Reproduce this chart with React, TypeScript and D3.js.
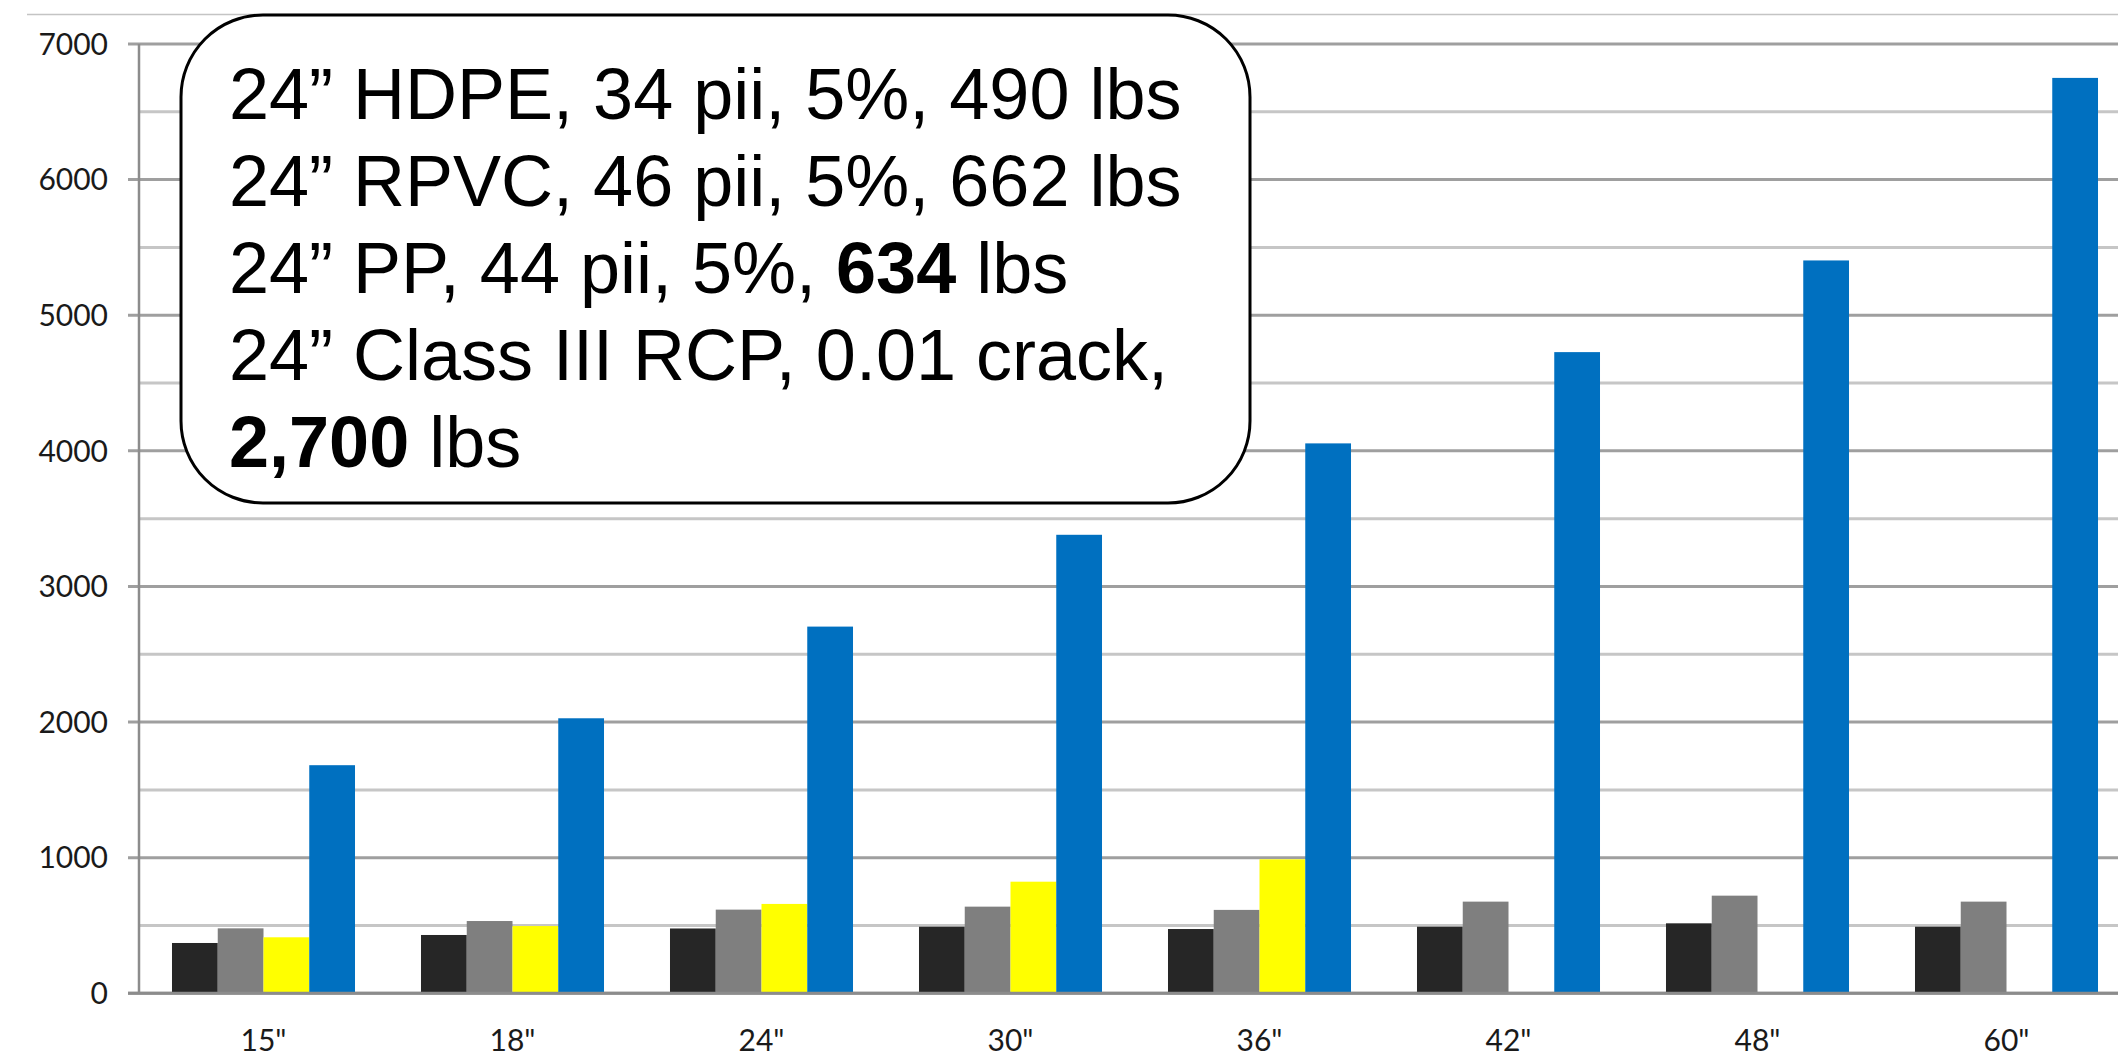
import React from "react";
import * as d3 from "d3";

const categories = ['15"', '18"', '24"', '30"', '36"', '42"', '48"', '60"'];
const seriesNames = ["HDPE", "RPVC", "PP", "RCP"];
const hdpe = [371, 430, 478, 491, 474, 491, 516, 491];
const rpvc = [479, 533, 617, 639, 615, 676, 720, 676];
const pp: (number | null)[] = [413, 496, 659, 823, 988, null, null, null];
const rcp = [1682, 2028, 2704, 3381, 4055, 4728, 5404, 6750];
const seriesColors = ["#262626", "#7f7f7f", "#ffff00", "#0070c0"];
const yTicks = [0, 1000, 2000, 3000, 4000, 5000, 6000, 7000];
const minorTicks = [500, 1500, 2500, 3500, 4500, 5500, 6500];

type Seg = { text: string; bold?: boolean };
const noteLines: Seg[][] = [
  [{ text: "24\u201D HDPE, 34 pii, 5%, 490 lbs" }],
  [{ text: "24\u201D RPVC, 46 pii, 5%, 662 lbs" }],
  [{ text: "24\u201D PP, 44 pii, 5%, " }, { text: "634", bold: true }, { text: " lbs" }],
  [{ text: "24\u201D Class III RCP, 0.01 crack," }],
  [{ text: "2,700", bold: true }, { text: " lbs" }],
];

export default function App() {
  const W = 2118;
  const H = 1061;
  const x0 = 139;
  const step = 249;
  const x1 = x0 + step * categories.length;
  const yBase = 993.3;
  const yTop = 44;

  const x = d3
    .scaleBand<string>()
    .domain(categories)
    .range([x0, x1])
    .paddingInner(0.265)
    .paddingOuter(0.1325);
  const xs = d3
    .scaleBand<string>()
    .domain(seriesNames)
    .range([0, x.bandwidth()])
    .padding(0);
  const y = d3.scaleLinear().domain([0, 7000]).range([yBase, yTop]);

  const data = [hdpe, rpvc, pp, rcp];
  const labelFont = "Lato, 'Open Sans', sans-serif";

  return (
    <svg
      width={W}
      height={H}
      style={{ position: "absolute", left: 0, top: 0, display: "block", background: "#fff" }}
    >
      <rect x={0} y={0} width={W} height={H} fill="#fff" />
      {/* top thin line */}
      <line x1={27} x2={W} y1={14.5} y2={14.5} stroke="#c4c4c4" strokeWidth={1.5} />
      {/* minor gridlines */}
      {minorTicks.map((t) => (
        <line key={"m" + t} x1={x0} x2={W} y1={y(t)} y2={y(t)} stroke="#c6c6c6" strokeWidth={3} />
      ))}
      {/* major gridlines */}
      {yTicks.map((t) => (
        <line key={"g" + t} x1={x0 - 11} x2={W} y1={y(t)} y2={y(t)} stroke="#9f9f9f" strokeWidth={3} />
      ))}
      {/* y axis */}
      <line x1={x0} x2={x0} y1={y(7000)} y2={yBase} stroke="#8c8c8c" strokeWidth={2.5} />
      {/* bars */}
      {data.map((vals, si) =>
        vals.map((v, ci) =>
          v == null ? null : (
            <rect
              key={si + "-" + ci}
              x={(x(categories[ci]) as number) + (xs(seriesNames[si]) as number)}
              y={y(v)}
              width={xs.bandwidth()}
              height={yBase - y(v)}
              fill={seriesColors[si]}
            />
          )
        )
      )}
      {/* x axis line */}
      <line x1={x0 - 11} x2={W} y1={yBase} y2={yBase} stroke="#8c8c8c" strokeWidth={3} />
      {/* y tick labels */}
      {yTicks.map((t) => (
        <text
          key={"yl" + t}
          x={108}
          y={y(t)}
          dy="0.36em"
          textAnchor="end"
          fontFamily={labelFont}
          fontSize={30}
          fill="#1a1a1a"
        >
          {t}
        </text>
      ))}
      {/* x tick labels */}
      {categories.map((c) => (
        <text
          key={"xl" + c}
          x={(x(c) as number) + x.bandwidth() / 2}
          y={1051}
          textAnchor="middle"
          fontFamily={labelFont}
          fontSize={30}
          fill="#1a1a1a"
        >
          {c}
        </text>
      ))}
      {/* annotation box */}
      <rect x={181} y={15} width={1069} height={488} rx={82} ry={82} fill="#fff" stroke="#000" strokeWidth={3} />
      {noteLines.map((segs, i) => (
        <text
          key={"n" + i}
          x={229}
          y={119 + i * 87}
          fontFamily="'Liberation Sans', Arial, sans-serif"
          fontSize={72}
          fill="#000"
        >
          {segs.map((s, j) => (
            <tspan key={j} fontWeight={s.bold ? "bold" : "normal"}>
              {s.text}
            </tspan>
          ))}
        </text>
      ))}
    </svg>
  );
}
